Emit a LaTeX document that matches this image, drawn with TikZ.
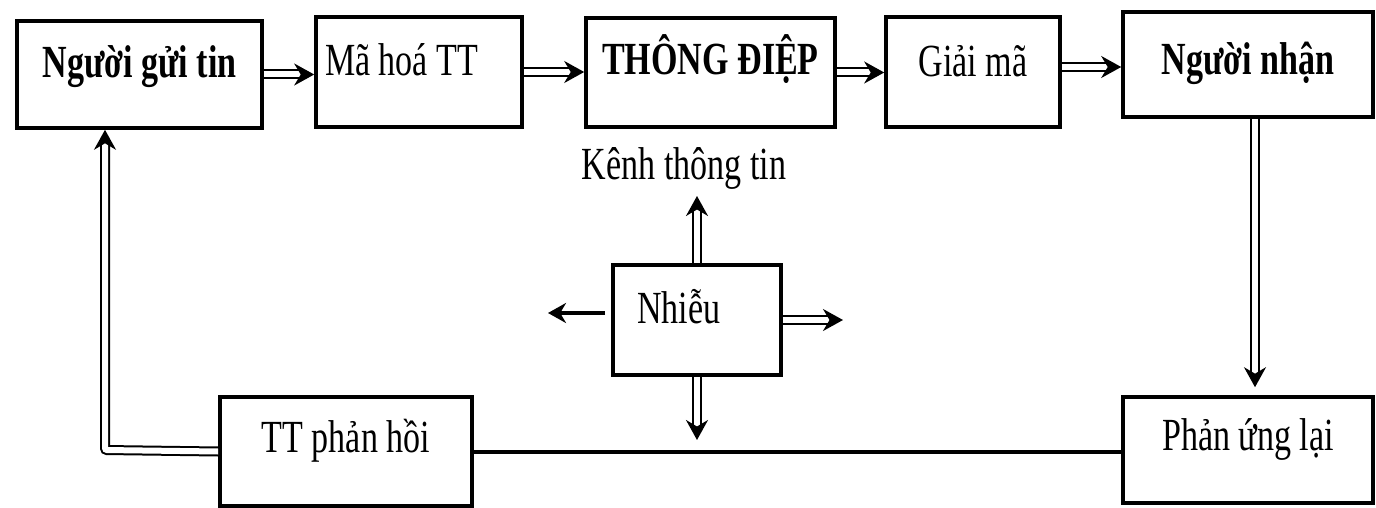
\documentclass[tikz,border=0pt]{standalone}
\usepackage{fontspec}
\setmainfont{Liberation Serif}[FakeStretch=0.74]
\usetikzlibrary{arrows.meta}
\begin{document}
\begin{tikzpicture}[x=0.5pt,y=-0.5pt,
  font=\fontsize{23}{27}\selectfont,
  box/.style={draw, line width=1.8pt, inner ysep=0pt, inner xsep=0pt},
  hollow/.style={double, double distance=3pt, line width=1pt,
    -{Stealth[length=10pt,width=11pt]}},
  solidarrow/.style={line width=2pt, -{Stealth[length=9pt,width=10pt]}},
  plainline/.style={line width=1.8pt}]
\useasboundingbox (0,0) rectangle (1376,508);

% top row: sender -> encoding -> message -> decoding -> receiver
\node[box, minimum width=122.5pt, text height=28.5pt, text depth=25pt]
  (sender) at (139.5,74.5) {\bfseries Người gửi tin};
\node[box, minimum width=103pt, text height=29.5pt, text depth=25.5pt]
  (enc) at (419,72) {\makebox[94pt][l]{Mã hoá TT}};
\node[box, minimum width=124.5pt, text height=28.5pt, text depth=26pt]
  (msg) at (710.5,72.5) {\bfseries THÔNG ĐIỆP};
\node[box, minimum width=87pt, text height=30pt, text depth=25pt]
  (dec) at (973,72) {Giải mã};
\node[box, minimum width=125pt, text height=31.5pt, text depth=21pt]
  (recv) at (1248,64.5) {\bfseries Người nhận};

% channel and noise
\node (chan) at (684,168) {Kênh thông tin};
\node[box, minimum width=84pt, text height=29pt, text depth=26pt]
  (noise) at (697,320) {\makebox[60pt][l]{Nhiễu}};

% bottom row: feedback and response
\node[box, minimum width=126pt, text height=27.5pt, text depth=27pt]
  (fb) at (346,451.5) {TT phản hồi};
\node[box, minimum width=125pt, text height=26.5pt, text depth=26.5pt]
  (react) at (1248,450) {Phản ứng lại};

% flow along the top row
\draw[hollow] (sender.east) -- (sender.east -| enc.west);
\draw[hollow] (enc.east) -- (enc.east -| msg.west);
\draw[hollow] (msg.east) -- (msg.east -| dec.west);
\draw[hollow] (dec.east |- 0,67) -- (recv.west |- 0,67);

% receiver down to its response
\draw[hollow, shorten >=4pt] ([xshift=3.5pt]recv.south) -- ([xshift=3.5pt]recv.south |- react.north);

% response back to the feedback box
\draw[plainline] (react.west |- 0,452) -- (fb.east |- 0,452);

% feedback returns to the sender
\coordinate (bend) at (105,450);
\draw[hollow, rounded corners=1pt] (fb.west) -- (bend) -- (bend |- sender.south);

% noise acting in four directions
\coordinate (nup) at (697,196);
\coordinate (ndown) at (697,440);
\coordinate (nleft) at (548,313);
\coordinate (nright) at (843,320);
\draw[hollow] (noise.north) -- (nup);
\draw[hollow] (noise.south) -- (ndown);
\draw[solidarrow, shorten <=3pt] (noise.west |- nleft) -- (nleft);
\draw[hollow] (noise.east |- nright) -- (nright);
\end{tikzpicture}
\end{document}
